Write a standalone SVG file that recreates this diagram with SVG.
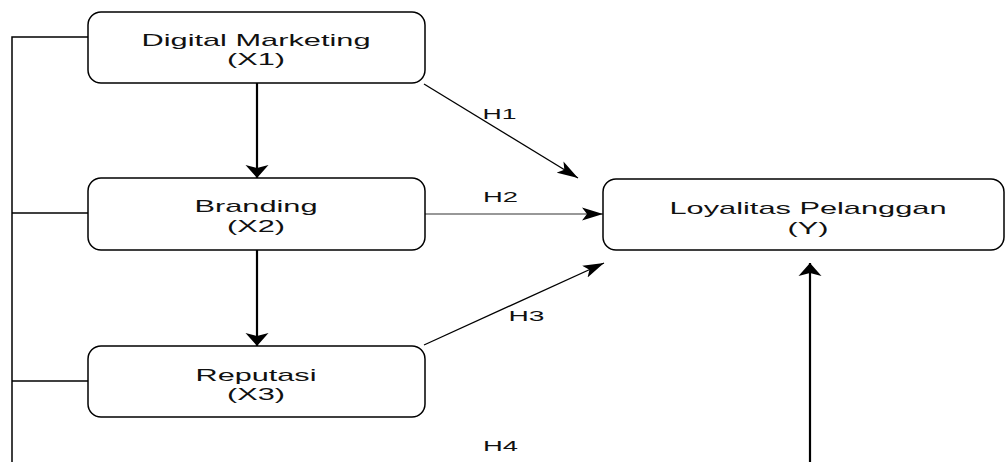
<svg xmlns="http://www.w3.org/2000/svg" width="1006" height="462" viewBox="0 0 1006 462">
  <style>
    .box { fill: #ffffff; stroke: #000000; stroke-width: 1.5; }
    .label { font-family: "Liberation Sans", Arial, sans-serif; font-size: 17px; fill: #111111; text-anchor: middle; }
    .hyp { font-family: "Liberation Sans", Arial, sans-serif; font-size: 14px; fill: #111111; text-anchor: middle; }
    .bus { fill: none; stroke: #000000; stroke-width: 1.5; }
    .thick { fill: none; stroke: #000000; stroke-width: 2.2; }
    .thin { fill: none; stroke: #000000; stroke-width: 1.3; }
    .thin-grey { fill: none; stroke: #333333; stroke-width: 1.1; }
  </style>
  <defs>
    <marker id="headBold" markerUnits="userSpaceOnUse" markerWidth="14" markerHeight="24" refX="13" refY="12" orient="auto">
      <path d="M0,0.5 L13,12 L0,23.5 L3,12 Z" fill="#000000"/>
    </marker>
    <marker id="headThin" markerUnits="userSpaceOnUse" markerWidth="22" markerHeight="14" refX="21" refY="7" orient="auto">
      <path d="M0,0.5 L21,7 L0,13.5 L5,7 Z" fill="#000000"/>
    </marker>
  </defs>

  <rect width="1006" height="462" fill="#ffffff"/>

  <g id="connectors">
    <!-- left bus tying the three predictors together -->
    <path class="bus" d="M12,462 L12,37 L88,37"/>
    <path class="bus" d="M12,213 L88,213"/>
    <path class="bus" d="M12,381 L88,381"/>
    <!-- X1 -> X2 -> X3 chain -->
    <line class="thick" x1="257" y1="83" x2="257" y2="178" marker-end="url(#headBold)"/>
    <line class="thick" x1="257" y1="250" x2="257" y2="346" marker-end="url(#headBold)"/>
    <!-- hypotheses into Y -->
    <line class="thin" x1="424" y1="84" x2="578" y2="178" marker-end="url(#headThin)"/>
    <line class="thin-grey" x1="424" y1="214" x2="603" y2="214" marker-end="url(#headThin)"/>
    <line class="thin" x1="424" y1="345" x2="604" y2="263" marker-end="url(#headThin)"/>
    <line class="thick" x1="810" y1="462" x2="810" y2="263" marker-end="url(#headBold)"/>
    <!-- hypothesis labels -->
    <text class="hyp" x="499.5" y="118.5" textLength="34" lengthAdjust="spacingAndGlyphs">H1</text>
    <text class="hyp" x="500.5" y="201.5" textLength="35" lengthAdjust="spacingAndGlyphs">H2</text>
    <text class="hyp" x="526.5" y="320.5" textLength="36" lengthAdjust="spacingAndGlyphs">H3</text>
    <text class="hyp" x="500.5" y="450.5" textLength="35" lengthAdjust="spacingAndGlyphs">H4</text>
  </g>

  <g id="node-x1">
    <rect class="box" x="88" y="12" width="337" height="71" rx="13" ry="13"/>
    <text class="label" x="256" y="45.5" textLength="229" lengthAdjust="spacingAndGlyphs">Digital Marketing</text>
    <text class="label" x="256" y="65" textLength="58" lengthAdjust="spacingAndGlyphs">(X1)</text>
  </g>

  <g id="node-x2">
    <rect class="box" x="88" y="178" width="337" height="72" rx="13" ry="13"/>
    <text class="label" x="256" y="212" textLength="123" lengthAdjust="spacingAndGlyphs">Branding</text>
    <text class="label" x="256" y="231.5" textLength="58" lengthAdjust="spacingAndGlyphs">(X2)</text>
  </g>

  <g id="node-x3">
    <rect class="box" x="88" y="346" width="337" height="71" rx="13" ry="13"/>
    <text class="label" x="256" y="380.5" textLength="121" lengthAdjust="spacingAndGlyphs">Reputasi</text>
    <text class="label" x="256" y="400" textLength="58" lengthAdjust="spacingAndGlyphs">(X3)</text>
  </g>

  <g id="node-y">
    <rect class="box" x="603" y="179" width="401" height="71" rx="13" ry="13"/>
    <text class="label" x="808" y="214" textLength="277" lengthAdjust="spacingAndGlyphs">Loyalitas Pelanggan</text>
    <text class="label" x="808" y="233.5" textLength="41" lengthAdjust="spacingAndGlyphs">(Y)</text>
  </g>
</svg>
